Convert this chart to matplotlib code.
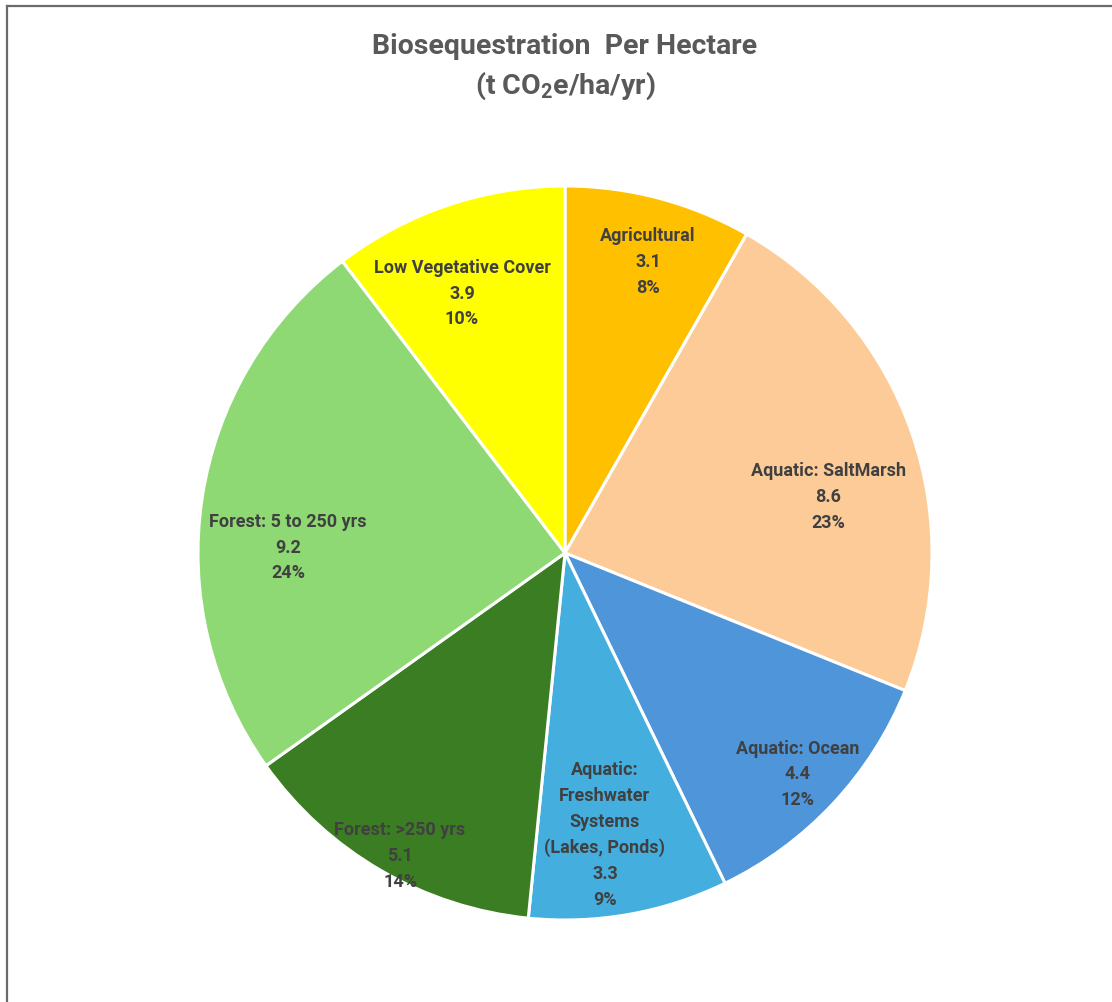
import matplotlib.pyplot as plt
import numpy as np
from matplotlib.lines import Line2D

plt.rcParams['font.family'] = ['Roboto', 'DejaVu Sans']
plt.rcParams['mathtext.fontset'] = 'custom'
plt.rcParams['mathtext.rm'] = 'Roboto'
plt.rcParams['mathtext.bf'] = 'Roboto:bold'

categories = ['Agricultural', 'Aquatic: SaltMarsh', 'Aquatic: Ocean',
              'Aquatic:\nFreshwater\nSystems\n(Lakes, Ponds)',
              'Forest: >250 yrs', 'Forest: 5 to 250 yrs', 'Low Vegetative Cover']
values = [3.1, 8.6, 4.4, 3.3, 5.1, 9.2, 3.9]
colors = ['#FFC000', '#FDCB98', '#4E95D9', '#44AEDF', '#3B7D23', '#8ED973', '#FFFF00']

# where each label sits inside its slice (fraction of radius, angle nudge in degrees)
label_r = [0.825, 0.733, 0.875, 0.776, 0.94, 0.755, 0.76]
label_da = [-1.1, -7.1, -0.5, -2.0, 1.6, 7.5, 3.0]

W, H = 1112, 1002
fig = plt.figure(figsize=(W / 100, H / 100), dpi=100)
ax = fig.add_axes([0, 0, 1, 1])

cx, cy, R = 565, H - 553, 367
wedges, _ = ax.pie(values, colors=colors, startangle=90, counterclock=False,
                   center=(cx, cy), radius=R, frame=True,
                   wedgeprops=dict(edgecolor='white', linewidth=2.2))
ax.set_xlim(0, W)
ax.set_ylim(0, H)
ax.axis('off')

total = sum(values)
for w, name, v, r, da in zip(wedges, categories, values, label_r, label_da):
    ang = np.deg2rad((w.theta1 + w.theta2) / 2 + da)
    x = cx + r * R * np.cos(ang)
    y = cy + r * R * np.sin(ang)
    ax.text(x, y, f'{name}\n{v}\n{v / total:.0%}', ha='center', va='center',
            fontsize=13, fontweight='bold', color='#404040', linespacing=1.55)

fig.text(0.508, 1 - 46 / H, 'Biosequestration  Per Hectare', ha='center', va='center',
         fontsize=20.5, fontweight='bold', color='#595959')
fig.text(0.508, 1 - 86 / H, r'(t CO$_\mathbf{2}$e/ha/yr)', ha='center', va='center',
         fontsize=20.5, fontweight='bold', color='#595959')

# chart area border
fig.add_artist(Line2D([7 / W, 1], [1 - 6 / H, 1 - 6 / H], color='#6b6b6b', lw=1.6))
fig.add_artist(Line2D([7 / W, 7 / W], [0, 1 - 6 / H], color='#6b6b6b', lw=1.6))

fig.savefig('out.png', dpi=100)
